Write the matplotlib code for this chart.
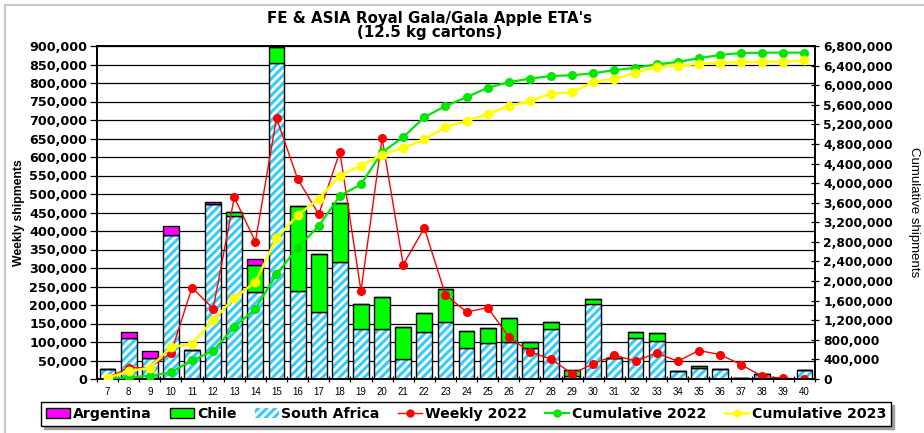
import matplotlib
matplotlib.use("Agg")
import matplotlib.pyplot as plt
from matplotlib.ticker import FuncFormatter, FixedLocator
from matplotlib.lines import Line2D
from matplotlib.patches import Patch
import numpy as np

weeks = [7, 8, 9, 10, 11, 12, 13, 14, 15, 16, 17, 18, 19, 20, 21, 22, 23, 24,
         25, 26, 27, 28, 29, 30, 31, 32, 33, 34, 35, 36, 37, 38, 39, 40]

south_africa = [27000, 110000, 57000, 390000, 79000, 473000, 440000, 235000, 853000,
                237000, 181000, 316000, 135000, 135000, 55000, 128000, 153000, 84000,
                97000, 101000, 84000, 135000, 9000, 203000, 57000, 111000, 103000,
                22000, 30000, 28000, 4000, 13000, 0, 25000]
chile = [0, 0, 0, 0, 0, 0, 12000, 72000, 43000, 230000, 157000, 159000, 68000, 86000,
         85000, 50000, 91000, 47000, 41000, 63000, 17000, 19000, 14000, 13000, 0,
         16000, 21000, 0, 6000, 0, 0, 0, 0, 0]
argentina = [0, 17000, 20000, 24000, 0, 5000, 0, 18000, 0, 0, 0, 0, 0, 0, 0, 0, 0, 0,
             0, 0, 0, 0, 0, 0, 0, 0, 0, 0, 0, 0, 0, 0, 0, 0]

weekly_2022 = [4000, 30000, 31000, 70000, 247000, 190000, 491000, 371000, 705000,
               541000, 445000, 614000, 238000, 651000, 309000, 408000, 228000, 181000,
               193000, 114000, 73000, 54000, 14000, 41000, 64000, 49000, 70000, 48000,
               77000, 66000, 39000, 7000, 2000, 0]
cumulative_2022 = [4000, 34000, 65000, 135000, 382000, 572000, 1063000, 1434000, 2139000,
                   2680000, 3125000, 3739000, 3977000, 4628000, 4937000, 5345000, 5573000,
                   5754000, 5947000, 6061000, 6134000, 6188000, 6202000, 6243000, 6307000,
                   6356000, 6426000, 6474000, 6551000, 6617000, 6656000, 6663000, 6665000,
                   6665000]
cumulative_2023 = [27000, 154000, 231000, 645000, 724000, 1202000, 1654000, 1979000,
                   2875000, 3342000, 3680000, 4155000, 4358000, 4579000, 4719000, 4897000,
                   5141000, 5272000, 5410000, 5574000, 5675000, 5829000, 5852000, 6068000,
                   6125000, 6252000, 6376000, 6398000, 6434000, 6462000, 6466000, 6479000,
                   6479000, 6504000]

C_ARG = "#ff00ff"
C_CHILE = "#00ff00"
C_SA = "#33ccff"
C_RED = "#ff0000"
C_GREEN = "#00e600"
C_YELLOW = "#ffff00"

plt.rcParams['hatch.linewidth'] = 2.2
BOLD = "DejaVu Sans"

fig = plt.figure(figsize=(9.24, 4.33), dpi=100)
ax = fig.add_axes([97/924, 1-379/433, (815-97)/924, (379-46)/433])
ax2 = ax.twinx()

x = np.arange(len(weeks))
sa = np.array(south_africa)
ch = np.array(chile)
ar = np.array(argentina)
w = 0.75

# South Africa: hatched fill then black outline
ax.bar(x, sa, w, color="white", edgecolor=C_SA, hatch="////", linewidth=0, zorder=2)
ax.bar(x, sa, w, color="none", edgecolor="black", linewidth=1.0, zorder=3)
ax.bar(x, ch, w, bottom=sa, color=C_CHILE, edgecolor="black", linewidth=1.0, zorder=3)
ax.bar(x, ar, w, bottom=sa+ch, color=C_ARG, edgecolor="black", linewidth=1.0, zorder=3)

ax.plot(x, weekly_2022, color=C_RED, lw=1.0, marker="o", ms=5.5, zorder=5)
ax2.plot(x, cumulative_2022, color=C_GREEN, lw=1.6, marker="o", ms=5.5, zorder=5)
ax2.plot(x, cumulative_2023, color=C_YELLOW, lw=1.8, marker="o", ms=6, zorder=6)

ax.set_xlim(-0.5, len(weeks)-0.5)
ax.set_ylim(0, 900000)
ax2.set_ylim(0, 6800000)
ax.set_yticks(np.arange(0, 900001, 50000))
ax2.set_yticks(np.arange(0, 6800001, 400000))
fmt = FuncFormatter(lambda v, p: f"{v:,.0f}")
ax.yaxis.set_major_formatter(fmt)
ax2.yaxis.set_major_formatter(fmt)
ax.grid(axis="y", color="black", lw=0.9)
ax.set_axisbelow(True)

ax.set_xticks(x)
ax.set_xticklabels([str(v) for v in weeks], fontsize=7, family="Liberation Sans")
ax.tick_params(axis="x", which="major", length=0, pad=6)
ax.xaxis.set_minor_locator(FixedLocator(np.arange(-0.5, len(weeks), 1.0)))
ax.tick_params(axis="x", which="minor", length=5, direction="inout", width=0.9)

for lab in ax.get_yticklabels():
    lab.set_fontweight("bold"); lab.set_family(BOLD); lab.set_fontsize(9.2)
for lab in ax2.get_yticklabels():
    lab.set_fontweight("bold"); lab.set_family(BOLD); lab.set_fontsize(8.8)
ax.tick_params(axis="y", length=5, width=0.9, direction="out", pad=2)
ax2.tick_params(axis="y", length=6, width=0.9, direction="inout", pad=3)

for a in (ax, ax2):
    for s in a.spines.values():
        s.set_linewidth(1.2)
        s.set_color("black")

ax.set_ylabel("Weekly shipments", fontsize=8.8, fontweight="bold", family="Liberation Sans")
ax.yaxis.set_label_coords(-72/718, 0.5)
ax2.set_ylabel("Cumulative shipments", fontsize=9.5, family="Liberation Sans", rotation=270)
ax2.yaxis.set_label_coords(1 + (920-815)/718, 0.5)

fig.text(430/924, 1-18/433, "FE & ASIA Royal Gala/Gala Apple ETA's", ha="center", va="center",
         fontsize=10.8, fontweight="bold", family=BOLD)
fig.text(430/924, 1-33/433, "(12.5 kg cartons)", ha="center", va="center",
         fontsize=10.8, fontweight="bold", family=BOLD)

handles = [
    Patch(facecolor=C_ARG, edgecolor="black", lw=1),
    Patch(facecolor=C_CHILE, edgecolor="black", lw=1),
    Patch(facecolor="white", edgecolor=C_SA, hatch="////", lw=0),
    Line2D([], [], color=C_RED, lw=1, marker="o", ms=5),
    Line2D([], [], color=C_GREEN, lw=1.6, marker="o", ms=5),
    Line2D([], [], color=C_YELLOW, lw=1.8, marker="o", ms=5),
]
labels = ["Argentina", "Chile", "South Africa", "Weekly 2022", "Cumulative 2022", "Cumulative 2023"]
leg = fig.legend(handles, labels, loc="center", ncol=6,
                 bbox_to_anchor=(34/924, 1-429/433, (898-34)/924, 30/433), mode="expand",
                 frameon=True, fancybox=False, edgecolor="black", framealpha=1,
                 prop={"family": BOLD, "weight": "bold", "size": 10.2},
                 handlelength=1.7, handletextpad=0.2, columnspacing=0.8,
                 borderpad=0.35, shadow={"color": "#a0a0a0", "alpha": 1})
leg.get_frame().set_linewidth(1.0)

fig.add_artist(Line2D([4.5/924, 4.5/924], [0, 1-4.5/433], transform=fig.transFigure, color="#c8c8c8", lw=1.5))
fig.add_artist(Line2D([4.5/924, 1], [1-4.5/433, 1-4.5/433], transform=fig.transFigure, color="#c8c8c8", lw=1.5))

fig.savefig("out.png", dpi=100)
